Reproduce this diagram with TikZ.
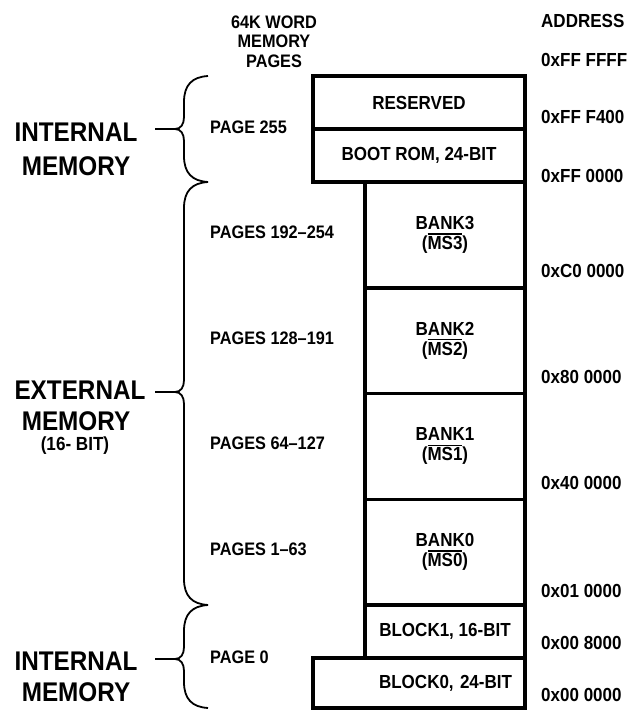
\documentclass[tikz,border=0pt]{standalone}
\usepackage{fontspec}
\setmainfont{Liberation Sans}[FakeStretch=0.9]
\usetikzlibrary{positioning}
\newcommand{\actlow}[1]{\setbox0\hbox{#1}\rlap{\rule[\dimexpr\ht0+1.6pt\relax]{\wd0}{1.5pt}}\box0}

\begin{document}
\begin{tikzpicture}[x=1pt,y=-1pt,
 mem/.style={draw,line width=3.5pt,outer sep=0pt,inner sep=0pt,align=center,font=\fontsize{18.9}{20}\selectfont\bfseries},
 bank/.style={mem,minimum width=160,minimum height=105.75},
 lbl/.style={inner sep=0pt,font=\fontsize{18.1}{19.5}\selectfont\bfseries},
 adr/.style={inner sep=0pt,anchor=west,font=\fontsize{18.9}{19.5}\selectfont\bfseries},
 big/.style={inner sep=0pt,align=center,font=\fontsize{27}{34}\selectfont\bfseries},
 brc/.style={line width=1.8pt}]
\useasboundingbox (0,0) rectangle (634,711);
% headings
\node[lbl,align=center] (pghead) at (274,41.5) {64K WORD\\MEMORY\\PAGES};
\node[adr] (adrhead) at (541,21) {ADDRESS};
% memory map
\node[mem,minimum width=212,minimum height=53] (rsv) at (419,102.5) {RESERVED};
\node[mem,minimum width=212,minimum height=53,below=0pt of rsv] (boot) {BOOT ROM, 24-BIT};
\node[bank,anchor=north east] (bank3) at (boot.south east) {BANK3\\(\actlow{MS3})};
\foreach \n/\p in {2/3,1/2,0/1}
 \node[bank,below=0pt of bank\p] (bank\n) {BANK\n\\(\actlow{MS\n})};
\node[mem,minimum width=160,minimum height=53,below=0pt of bank0] (blk1) {BLOCK1, 16-BIT};
\node[mem,minimum width=212,minimum height=50,text width=186,align=right,anchor=north east] (blk0) at (blk1.south east) {BLOCK0, 24-BIT};
% page numbers
\foreach \txt/\yy [count=\i] in {PAGE 255/127,PAGES 192--254/232,PAGES 128--191/338,
 PAGES 64--127/443,PAGES 1--63/549,PAGE 0/657}
 \node[lbl,anchor=west] (pg\i) at (210,\yy) {\txt};
% addresses
\foreach \txt/\yy [count=\i] in {0xFF FFFF/60,0xFF F400/117,0xFF 0000/176,0xC0 0000/271,
 0x80 0000/377,0x40 0000/483,0x01 0000/591,0x00 8000/643,0x00 0000/695}
 \node[adr] (adr\i) at (541,\yy) {\txt};
% braces
\foreach \t/\m/\b in {76/129/182,182/392/605,605/659/708}{
 \draw[brc] (208,\t) .. controls (192,\t+1) and (184,\t+9) .. (184,\t+26) -- (184,\m-12)
  .. controls (184,\m-5) and (181,\m) .. (175,\m)
  .. controls (181,\m) and (184,\m+5) .. (184,\m+12) -- (184,\b-26)
  .. controls (184,\b-9) and (192,\b-1) .. (208,\b);
 \draw[brc] (175,\m) -- (155,\m);
}
\node[big] (inttop) at (76,149) {INTERNAL\\MEMORY};
\node[big] (ext) at (80,390) {EXTERNAL};
\node[big] (extmem) at (76,421) {MEMORY};
\node[lbl,font=\fontsize{19}{19.5}\selectfont\bfseries] (extbits) at (75,446) {(16- BIT)};
\node[big,font=\fontsize{27}{31}\selectfont\bfseries] (intbot) at (76,677) {INTERNAL\\MEMORY};
\end{tikzpicture}
\end{document}
